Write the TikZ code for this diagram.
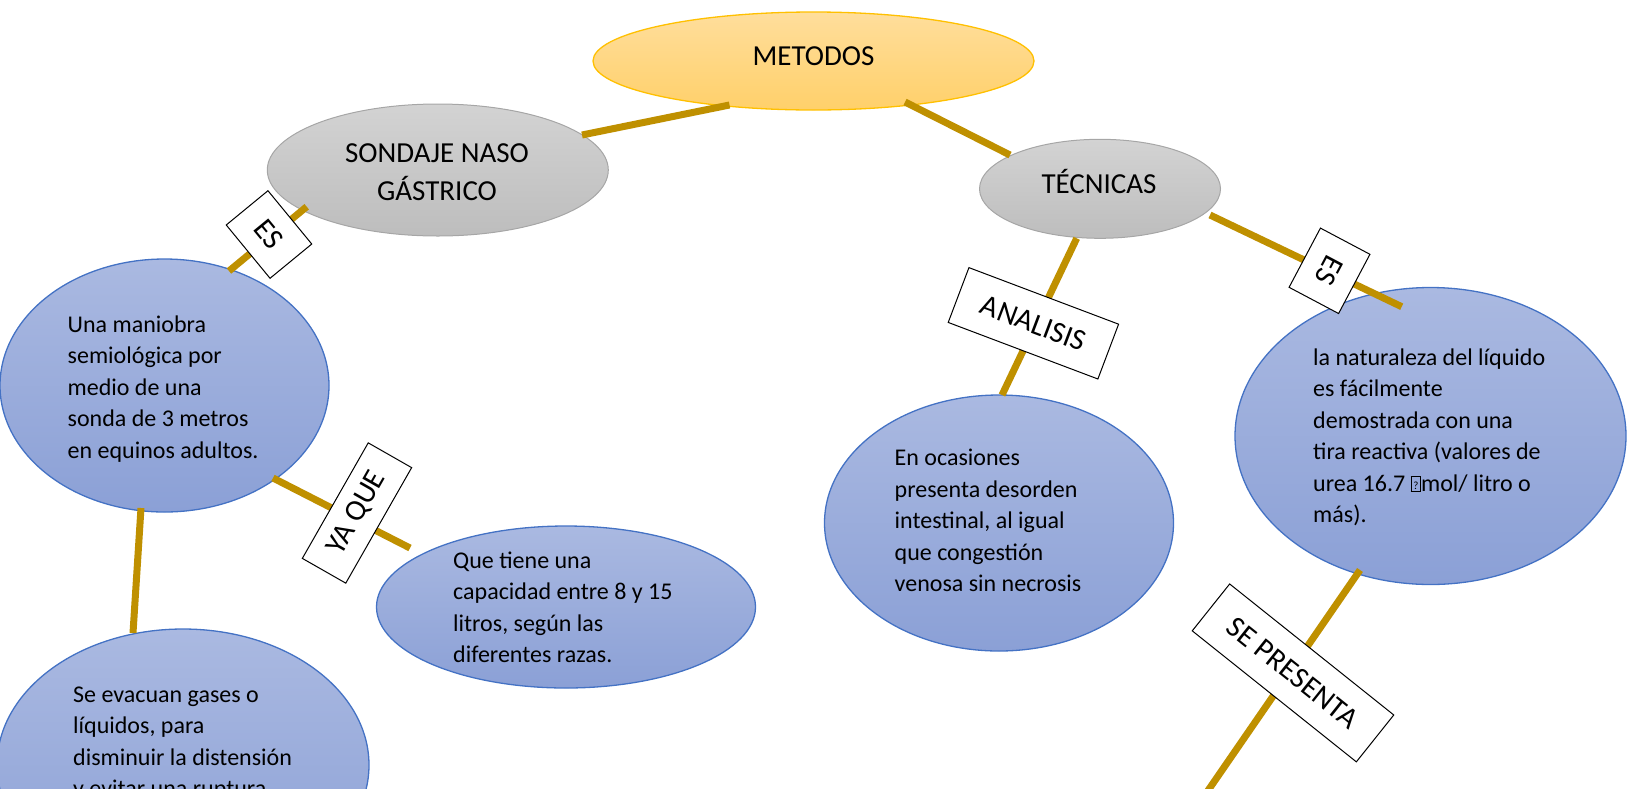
\documentclass[tikz,border=0pt]{standalone}
\usepackage{fontspec}
\setmainfont{Carlito}
\usetikzlibrary{shapes.geometric}
\definecolor{gold}{HTML}{BF9000}
\definecolor{blueedge}{HTML}{4472C4}
\definecolor{bluetop}{HTML}{AAB9E1}
\definecolor{bluebot}{HTML}{8BA0D6}
\definecolor{graytop}{HTML}{D3D3D3}
\definecolor{graybot}{HTML}{BDBDBD}
\definecolor{grayedge}{HTML}{A6A6A6}
\definecolor{orangetop}{HTML}{FFDE9C}
\definecolor{orangebot}{HTML}{FFD06A}
\definecolor{orangeedge}{HTML}{FFC000}
\newcommand{\qglyph}{{\setlength{\fboxsep}{0pt}\setlength{\fboxrule}{0.7pt}\fbox{\makebox[9pt]{\rule{0pt}{15pt}\raisebox{2pt}{\fontsize{11}{11}\selectfont ?}}}}}
\tikzset{
  bell/.style={ellipse, draw=blueedge, line width=1.3pt, top color=bluetop, bottom color=bluebot, inner sep=0pt},
  gell/.style={ellipse, draw=grayedge, line width=1pt, top color=graytop, bottom color=graybot, inner sep=0pt},
  oell/.style={ellipse, draw=orangeedge, line width=1.3pt, top color=orangetop, bottom color=orangebot, inner sep=0pt},
  conn/.style={draw=gold, line width=7pt},
  body/.style={anchor=north west, align=left, inner sep=0pt, font=\fontsize{24}{31.5}\selectfont},
  title/.style={align=center, inner sep=0pt, font=\fontsize{29}{37.5}\selectfont},
  lab/.style={draw=black, fill=white, line width=1pt, inner sep=0pt, font=\fontsize{30}{36}\selectfont}
}
\begin{document}
\begin{tikzpicture}[x=1pt,y=-1pt]
\useasboundingbox (0,0) rectangle (1627,788);
% ellipses
\node[oell, minimum width=441, minimum height=98] (metodos) at (813.5,61) {};
\node[gell, minimum width=341, minimum height=132] (sondaje) at (437.8,170) {};
\node[gell, minimum width=241, minimum height=99] (tecnicas) at (1100,188.8) {};
\node[bell, minimum width=329, minimum height=253] (una) at (164.5,385.5) {};
\node[bell, minimum width=379, minimum height=162] (que) at (566,607) {};
\node[bell, minimum width=372, minimum height=272] (se) at (183,765) {};
\node[bell, minimum width=349, minimum height=256] (en) at (999,523) {};
\node[bell, minimum width=391, minimum height=297] (la) at (1430.5,436) {};
% connector end points
\coordinate (sondajeR) at (582,135);
\coordinate (metodosL) at (729.5,105);
\coordinate (metodosR) at (905,102);
\coordinate (tecnicasL) at (1010,155);
\coordinate (sondajeB) at (306.7,206.7);
\coordinate (unaT) at (229,271);
\coordinate (unaR) at (273,478);
\coordinate (queL) at (410,548);
\coordinate (unaB) at (141,508);
\coordinate (seT) at (133,633);
\coordinate (tecnicasB) at (1076.7,238.3);
\coordinate (enT) at (1002,395);
\coordinate (tecnicasR) at (1210,215);
\coordinate (laT) at (1401.7,306.7);
\coordinate (laB) at (1360,570);
\coordinate (down) at (1207,792);
% connectors
\draw[conn] (sondajeR) -- (metodosL);
\draw[conn] (metodosR) -- (tecnicasL);
\draw[conn] (sondajeB) -- (unaT);
\draw[conn] (unaR) -- (queL);
\draw[conn] (unaB) -- (seT);
\draw[conn] (tecnicasB) -- (enT);
\draw[conn] (tecnicasR) -- (laT);
\draw[conn] (laB) -- (down);
% titles
\node[title] (metodosT) at (813.5,55.8) {METODOS};
\node[title] (sondajeT) at (437,172) {SONDAJE NASO\\GÁSTRICO};
\node[title] (tecnicasT) at (1099,181.5) {TÉCNICAS};
% body texts
\node[body] (unaT1) at (67.5,310) {\strut Una maniobra\\semiológica por\\medio de una\\sonda de 3 metros\\en equinos adultos.};
\node[body] (queT1) at (453,546) {\strut Que tiene una\\capacidad entre 8 y 15\\litros, según las\\diferentes razas.};
\node[body] (seT1) at (73,680) {\strut Se evacuan gases o\\líquidos, para\\disminuir la distensión\\y evitar una ruptura};
\node[body] (enT1) at (894.5,443.5) {\strut En ocasiones\\presenta desorden\\intestinal, al igual\\que congestión\\venosa sin necrosis};
\node[body] (laT1) at (1313,343) {\strut la naturaleza del líquido\\es fácilmente\\demostrada con una\\tira reactiva (valores de\\urea 16.7 \qglyph mol/ litro o\\más).};
% labels
\node[lab, minimum width=69, minimum height=54, rotate=-50.6] (es1) at (269,234.5) {ES};
\node[lab, minimum width=133, minimum height=50, rotate=60.3] (yaque) at (357,513) {YA QUE};
\node[lab, minimum width=160, minimum height=58.6, rotate=-20.7] (analisis) at (1033.4,323.3) {ANALISIS};
\node[lab, minimum width=67, minimum height=56, rotate=-117.9] (es2) at (1329.5,270.8) {ES};
\node[lab, minimum width=210, minimum height=60, rotate=-38.6] (sepresenta) at (1293,672.9) {SE PRESENTA};
\end{tikzpicture}
\end{document}
